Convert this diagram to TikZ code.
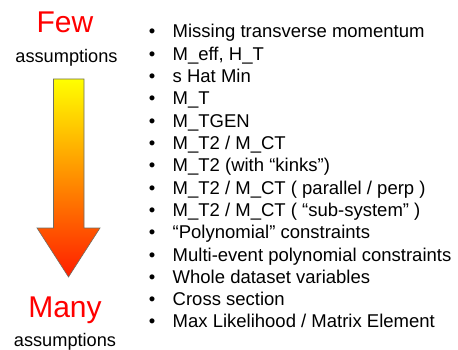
\documentclass[tikz,border=0pt]{standalone}
\usepackage{fontspec}
\setmainfont{Liberation Sans}
\begin{document}
\begin{tikzpicture}[x=1pt,y=-1pt,
  big/.style={text=red,font=\fontsize{30}{30}\selectfont,inner sep=0pt,anchor=base},
  small/.style={text=black,font=\fontsize{18.2}{18.2}\selectfont,inner sep=0pt,anchor=base},
  item/.style={font=\fontsize{18.5}{18.5}\selectfont,inner sep=0pt,anchor=base west},
  bul/.style={font=\fontsize{18.5}{18.5}\selectfont,inner sep=0pt,anchor=base}]
\useasboundingbox (0,0) rectangle (458,350);
\node[big] (few) at (65,33) {Few};
\node[small] (a1) at (66.5,62.5) {assumptions};
\node[big] (many) at (65,317) {Many};
\node[small] (a2) at (65,346.5) {assumptions};
\shade[top color=yellow, middle color={rgb,255:red,255;green,190;blue,0}, bottom color={rgb,255:red,255;green,30;blue,0}, draw={rgb,255:red,110;green,110;blue,100}, line width=0.6pt]
  (53.5,79) -- (84,79) -- (84,228) -- (100,228) -- (68.5,277) -- (37,228) -- (53.5,228) -- cycle;
\foreach \t [count=\i from 0] in {Missing transverse momentum, {M\_eff, H\_T}, s Hat Min, M\_T, M\_TGEN, M\_T2 / M\_CT, M\_T2 (with “kinks”), M\_T2 / M\_CT ( parallel / perp ), M\_T2 / M\_CT ( “sub-system” ), “Polynomial” constraints, Multi-event polynomial constraints, Whole dataset variables, Cross section, Max Likelihood / Matrix Element}{
  \node[bul] (b\i) at (152,38+22.3*\i) {•};
  \node[item] (t\i) at (172.5,38+22.3*\i) {\t};
}
\end{tikzpicture}
\end{document}
